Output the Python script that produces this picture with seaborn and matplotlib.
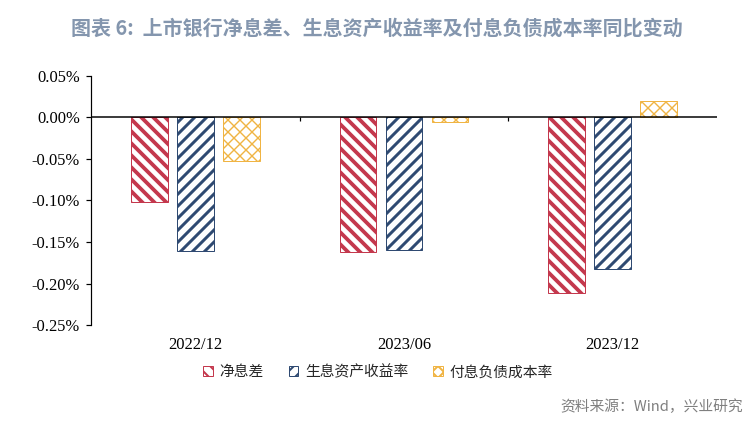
import matplotlib
matplotlib.use("Agg")
import matplotlib.pyplot as plt
from matplotlib.patches import Patch
import seaborn as sns
import pandas as pd

categories = ["2022/12", "2023/06", "2023/12"]
series = ["净息差", "生息资产收益率", "付息负债成本率"]
nim_change = [-0.102, -0.162, -0.211]
yield_change = [-0.161, -0.160, -0.183]
cost_change = [-0.052, -0.006, 0.020]
yticks = [0.05, 0.00, -0.05, -0.10, -0.15, -0.20, -0.25]

colors = ["#C4384D", "#2F4A72", "#F0B443"]
hatches = ["\\\\\\\\", "////", "xxxx"]
hatch_lw = [1.9, 1.5, 0.7]

DPI = 144
PT = 72.0 / DPI  # points per pixel

sns.set_theme(style="white")
plt.rcParams["font.family"] = ["Liberation Serif", "DejaVu Serif"]

df = pd.DataFrame({
    "cat": categories * 3,
    "series": [series[0]] * 3 + [series[1]] * 3 + [series[2]] * 3,
    "val": nim_change + yield_change + cost_change,
})

fig = plt.figure(figsize=(752 / DPI, 425 / DPI), dpi=DPI)
ax = fig.add_axes([91 / 752, 1 - 325 / 425, (717 - 91) / 752, (325 - 76) / 425])

sns.barplot(data=df, x="cat", y="val", hue="series", hue_order=series,
            order=categories, palette=colors, width=0.66, gap=0.2,
            saturation=1, legend=False, ax=ax, errorbar=None)

for cont, col, h, hl in zip(ax.containers, colors, hatches, hatch_lw):
    for p in cont:
        p.set_facecolor("white")
        p.set_edgecolor(col)
        p.set_hatch(h)
        p.set_linewidth(1.0 * PT)
        if hasattr(p, "set_hatch_linewidth"):
            p.set_hatch_linewidth(hl)

ax.set_xlim(-0.5, 2.5)
ax.set_ylim(-0.25, 0.05)
ax.set_yticks(yticks)
ax.set_yticklabels([f"{v:.2f}%" for v in yticks], fontsize=16.5 * PT)
ax.set_xticklabels(categories, fontsize=16.5 * PT)
ax.set_xlabel("")
ax.set_ylabel("")

for s in ["top", "right", "bottom"]:
    ax.spines[s].set_visible(False)
ax.spines["left"].set_color("black")
ax.spines["left"].set_linewidth(1.2 * PT)
ax.tick_params(axis="y", left=True, length=5 * PT, width=1.2 * PT, color="black",
               pad=6 * PT, labelcolor="black")
ax.tick_params(axis="x", bottom=False, length=0, pad=12 * PT, labelcolor="black")

ax.axhline(0, color="black", lw=1.5 * PT, zorder=3)
ax.vlines([0.5, 1.5], 0, -0.004, color="black", lw=1.2 * PT, zorder=3)

handles = []
for c, h, hl in zip(colors, hatches, hatch_lw):
    hp = Patch(facecolor="white", edgecolor=c, hatch=h, linewidth=1.0 * PT)
    if hasattr(hp, "set_hatch_linewidth"):
        hp.set_hatch_linewidth(hl * 0.7)
    handles.append(hp)
leg = fig.legend(handles, series, loc="center", bbox_to_anchor=(378 / 752, 1 - 372 / 425),
                 ncol=3, frameon=False, prop={"family": ["Noto Sans CJK SC", "DejaVu Sans"],
                                              "size": 14.8 * PT},
                 handlelength=0.65, handleheight=0.65, handletextpad=0.45, columnspacing=1.7)

fig.text(377 / 752, 1 - 28 / 425, "图表 6:  上市银行净息差、生息资产收益率及付息负债成本率同比变动",
         ha="center", va="center", fontsize=20 * PT, fontweight="bold", color="#8496AE",
         family=["Noto Sans CJK SC", "DejaVu Sans"])
fig.text(743 / 752, 1 - 407 / 425, "资料来源：Wind，兴业研究", ha="right", va="center",
         fontsize=14.8 * PT, color="#7F7F7F", family=["Noto Sans CJK SC", "DejaVu Sans"])

fig.savefig("out.png", dpi=DPI)
